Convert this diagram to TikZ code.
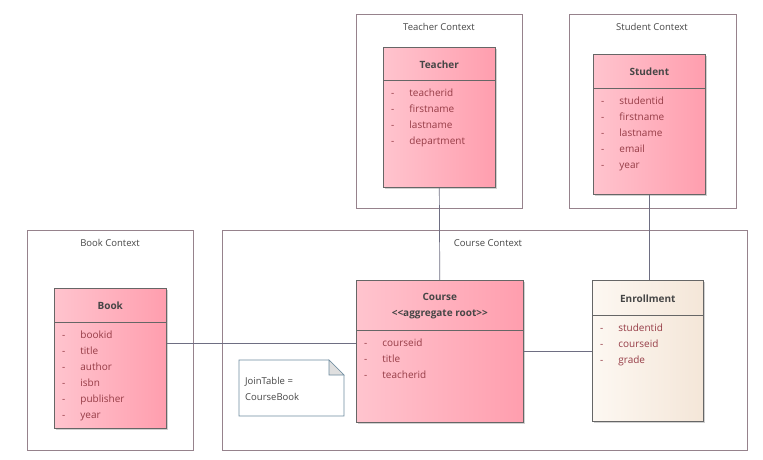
\documentclass[tikz,border=0pt]{standalone}
\usepackage{fontspec}
\setmainfont{Open Sans}
\usetikzlibrary{positioning,calc,shadows}
\definecolor{EdgeClr}{RGB}{110,110,130}
\definecolor{FrameClr}{RGB}{150,130,140}
\definecolor{PinkL}{RGB}{255,196,206}
\definecolor{PinkR}{RGB}{255,158,174}
\definecolor{CreamL}{RGB}{253,248,242}
\definecolor{CreamR}{RGB}{244,230,216}
\definecolor{NoteClr}{RGB}{110,140,160}
\definecolor{TxtClr}{RGB}{70,70,70}
\definecolor{AttrClr}{RGB}{150,60,70}

\tikzset{
  context/.style={draw=FrameClr,line width=.6pt,anchor=north west,inner sep=0pt},
  ctxlabel/.style={font=\fontsize{9.5}{10}\selectfont,text=TxtClr},
  classbox/.style={draw=gray!80!black,line width=.6pt,anchor=north west,inner sep=0pt,
    left color=PinkL,right color=PinkR,
    drop shadow={shadow xshift=2pt,shadow yshift=-2pt,fill=gray!60,opacity=.6}},
  entbox/.style={classbox,left color=CreamL,right color=CreamR},
  title/.style={font=\fontsize{10}{16}\selectfont\bfseries,text=TxtClr,align=center},
  attr/.style={font=\fontsize{10}{16}\selectfont,text=AttrClr,anchor=north west,align=left,inner sep=0pt},
  link/.style={draw=EdgeClr,line width=.7pt}
}
% class box: name, x, y, w, h, header height, title, attribute list
\newcommand{\umlclass}[9][classbox]{%
  \node[#1,minimum width=#5,minimum height=#6] (#2) at (#3,#4) {};
  \draw[gray!80!black,line width=.6pt] ($(#2.north west)+(0,#7)$) -- ($(#2.north east)+(0,#7)$);
  \node[title] at ($(#2.north)+(0,#7/2+1)$) {#8};
  \node[attr] at ($(#2.north west)+(8,#7+9)$) {#9};
}
\newcommand{\at}[1]{-\hspace{15pt}#1}

\begin{document}
\begin{tikzpicture}[x=1pt,y=-1pt]
\useasboundingbox (0,0) rectangle (763,460);

% contexts
\node[context,minimum width=166,minimum height=194] (teacherctx) at (356,14) {};
\node[ctxlabel] at (439,27) {Teacher Context};
\node[context,minimum width=167,minimum height=194] (studentctx) at (569,14) {};
\node[ctxlabel] at (652,27) {Student Context};
\node[context,minimum width=166,minimum height=220] (bookctx) at (27,230) {};
\node[ctxlabel] at (110,243) {Book Context};
\node[context,minimum width=525,minimum height=220] (coursectx) at (222,230) {};
\node[ctxlabel] at (488,243) {Course Context};

% classes
\umlclass{teacher}{383}{47}{112}{140}{33}{Teacher}{\at{teacherid}\\\at{firstname}\\\at{lastname}\\\at{department}}
\umlclass{student}{593}{54}{112}{140}{34}{Student}{\at{studentid}\\\at{firstname}\\\at{lastname}\\\at{email}\\\at{year}}
\umlclass{book}{54}{288}{112}{140}{34}{Book}{\at{bookid}\\\at{title}\\\at{author}\\\at{isbn}\\\at{publisher}\\\at{year}}
\umlclass{course}{356}{280}{167}{142}{50}{Course\\<{}<aggregate root>{}>}{\at{courseid}\\\at{title}\\\at{teacherid}}
\umlclass[entbox]{enroll}{592}{280}{111}{141}{35}{Enrollment}{\at{studentid}\\\at{courseid}\\\at{grade}}

% note
\coordinate (n1) at (239,360);
\coordinate (n2) at (329,360);
\coordinate (n3) at (344,375);
\coordinate (n4) at (344,416);
\coordinate (n5) at (239,416);
\draw[NoteClr,line width=.6pt,fill=white] (n1) -- (n2) -- (n3) -- (n4) -- (n5) -- cycle;
\draw[NoteClr,line width=.6pt,fill=gray!25] (n2) -- (329,375) -- (n3) -- cycle;
\node[font=\fontsize{9.5}{16}\selectfont,text=TxtClr,align=left,anchor=north west,inner sep=0pt] (note) at (245,377) {JoinTable =\\CourseBook};

% connectors
\draw[link] (teacher.south) -- (course.north);
\draw[link] (student.south) -- (student.south |- enroll.north);
\draw[link] (book.east |- 0,343) -- (course.west |- 0,343);
\draw[link] (course.east |- 0,351) -- (enroll.west |- 0,351);
\end{tikzpicture}
\end{document}
